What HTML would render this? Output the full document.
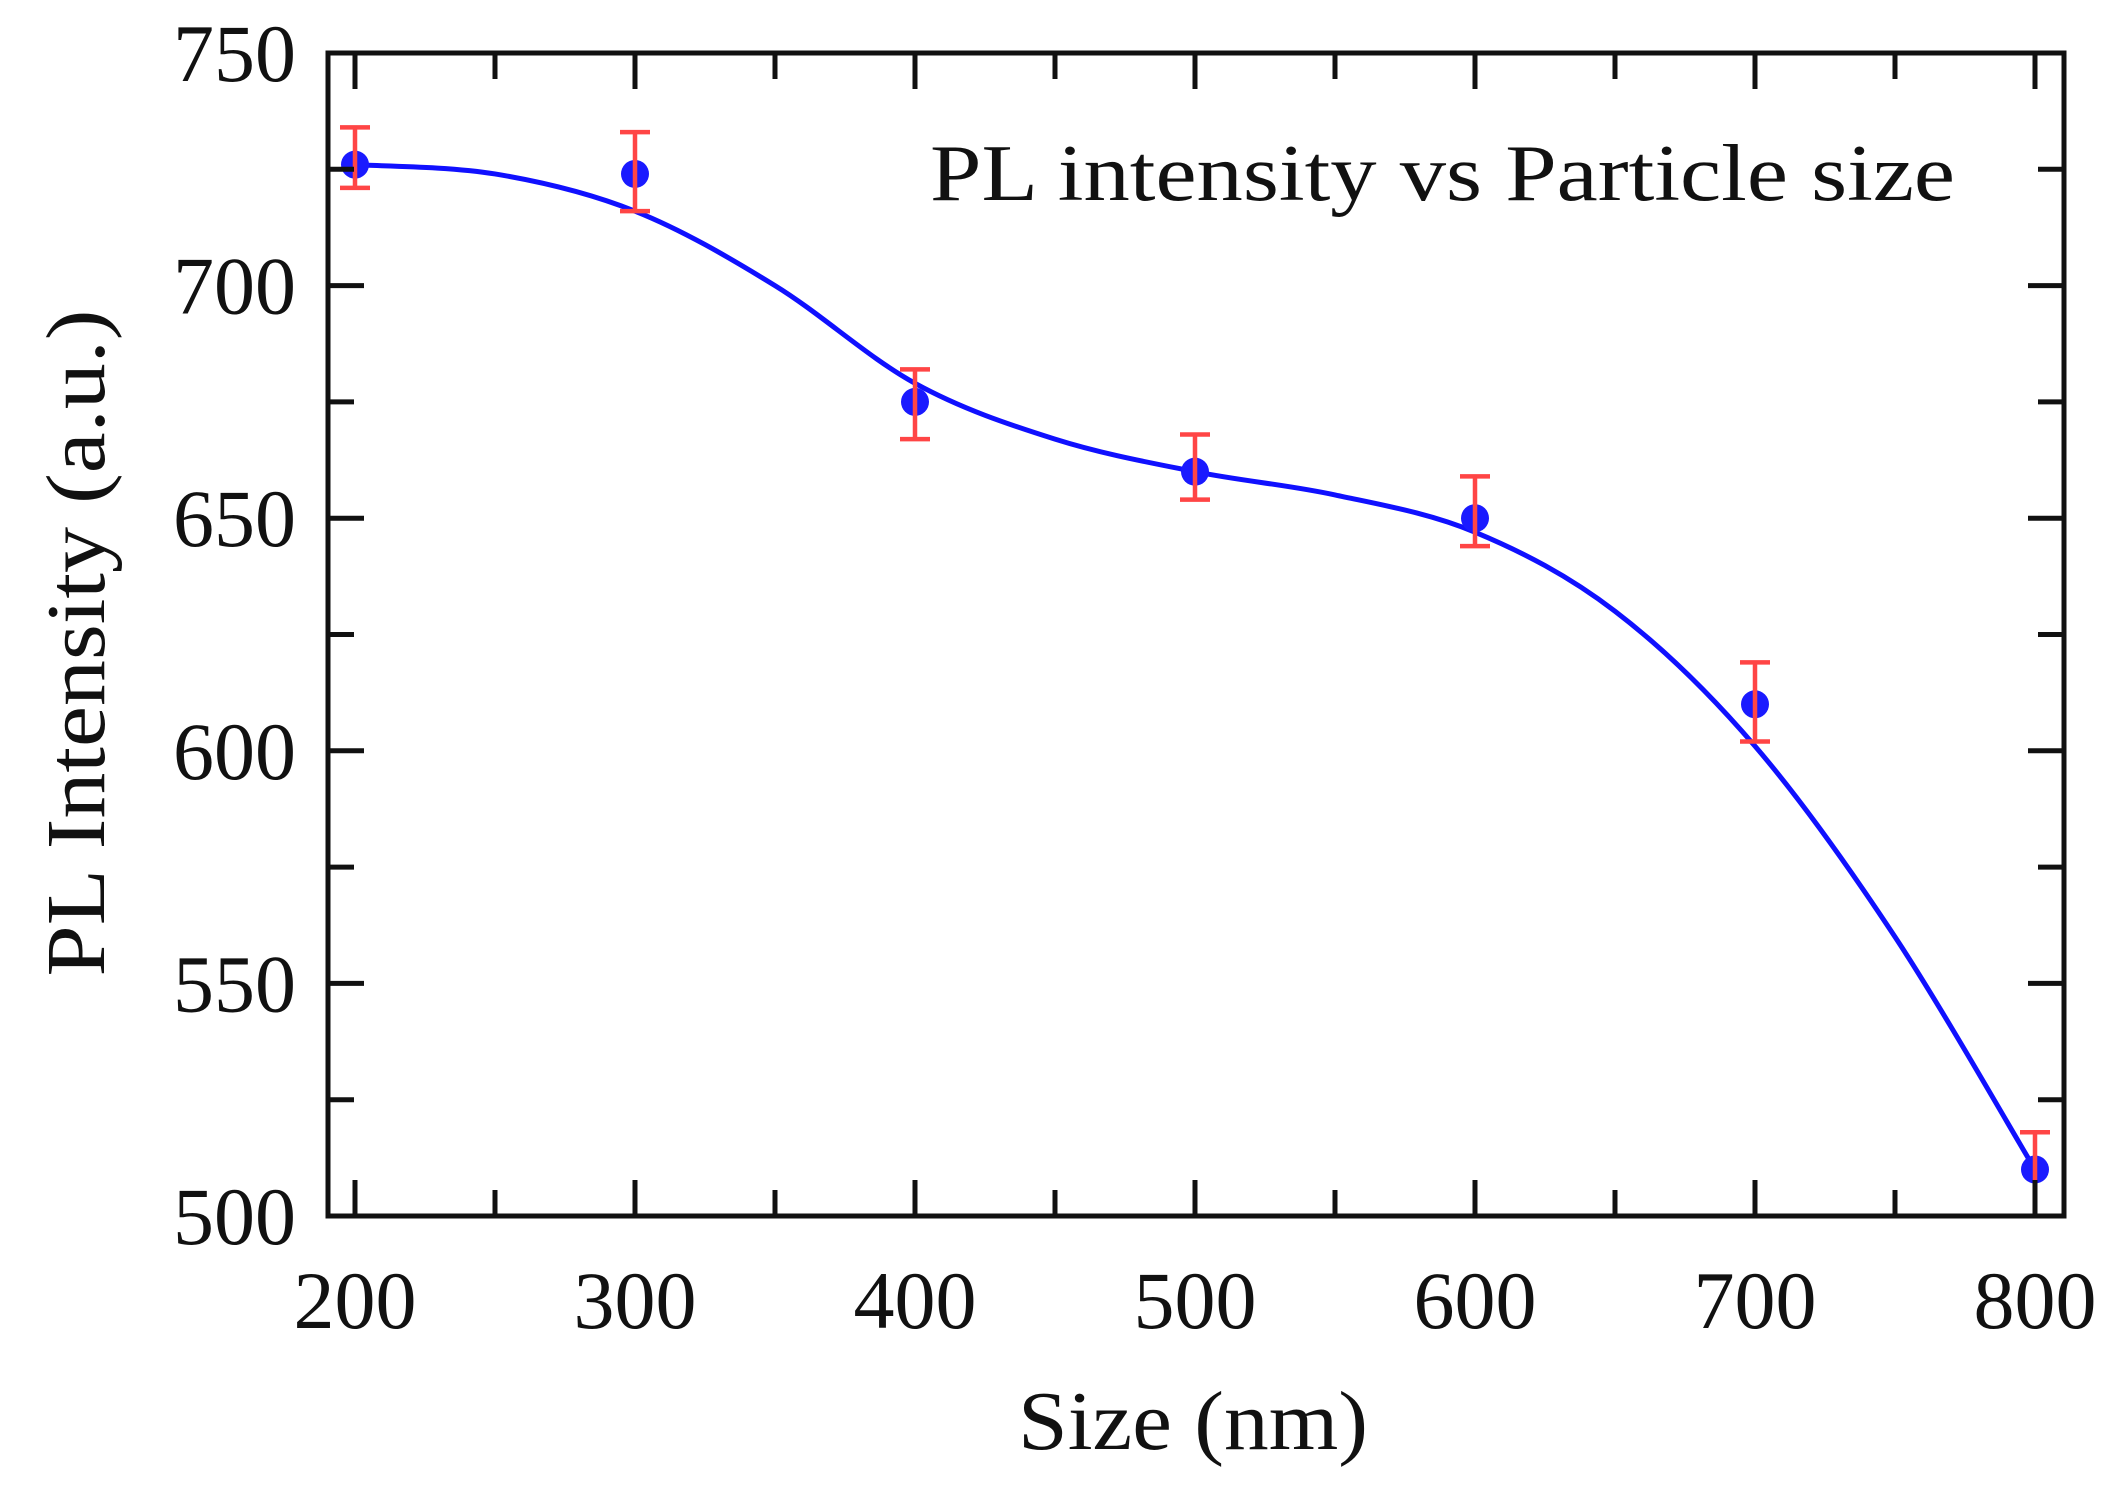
<!DOCTYPE html>
<html><head><meta charset="utf-8"><style>
html,body{margin:0;padding:0;background:#fff;}
svg{display:block;font-family:"Liberation Serif",serif;}
</style></head><body>
<svg id="chart" width="2114" height="1491" viewBox="0 0 2114 1491" xmlns="http://www.w3.org/2000/svg">
</svg>
<script>
const sizes=[200,300,400,500,600,700,800];
const intensity=[726,724,675,660,650,610,510];
const errUp=[734,733,682,668,659,619,518];
const errLo=[721,716,667,654,644,602,500];
const fitX=[200,250,300,350,400,450,500,550,600,650,700,750,800];
const fitY=[726,724,716,700,679,667,660,655,647,630,601,560,510];
const xTicks=[200,300,400,500,600,700,800];
const yTicks=[500,550,600,650,700,750];

const L=328,R=2064,T=53,B=1216;
const Y0=500,Y1=750;
function sx(v){return 355+(v-200)*(2035-355)/600;}
function sy(v){return B-(v-Y0)*(B-T)/(Y1-Y0);}
const NS="http://www.w3.org/2000/svg";
const svg=document.getElementById('chart');
function el(t,a,p){const e=document.createElementNS(NS,t);for(const k in a)e.setAttribute(k,a[k]);(p||svg).appendChild(e);return e;}

let pts=fitX.map((x,i)=>[sx(x),sy(fitY[i])]);
let d="M"+pts[0][0]+","+pts[0][1];
for(let i=0;i<pts.length-1;i++){
  const p0=pts[Math.max(0,i-1)],p1=pts[i],p2=pts[i+1],p3=pts[Math.min(pts.length-1,i+2)];
  const c1=[p1[0]+(p2[0]-p0[0])/6,p1[1]+(p2[1]-p0[1])/6];
  const c2=[p2[0]-(p3[0]-p1[0])/6,p2[1]-(p3[1]-p1[1])/6];
  d+=" C"+c1+" "+c2+" "+p2;
}
const curve=el('path',{d:d,fill:'none',stroke:'#1010ff','stroke-width':5});



sizes.forEach((s,i)=>{
  const x=sx(s);
  const pt=el('circle',{cx:x,cy:sy(intensity[i]),r:14,fill:'#1a1aff'});
  
  
  const eb=el('path',{d:`M${x},${sy(errUp[i])}V${sy(errLo[i])}M${x-15},${sy(errUp[i])}h30M${x-15},${sy(errLo[i])}h30`,stroke:'#ff4545','stroke-width':4.5,fill:'none'});
  
  
});

const fr=el('rect',{x:L,y:T,width:R-L,height:B-T,fill:'none',stroke:'#111','stroke-width':5});



let td="";
for(let v=200;v<=800;v+=50){const x=sx(v);const len=(v%100==0)?36:26;td+=`M${x},${B}v${-len}M${x},${T}v${len}`;}
for(let v=500;v<=750;v+=25){const y=sy(v);const len=(v%50==0)?36:26;td+=`M${L},${y}h${len}M${R},${y}h${-len}`;}
const tk=el('path',{d:td,stroke:'#111','stroke-width':5,fill:'none'});



xTicks.forEach(v=>{
  const t=el('text',{x:sx(v),y:1328,'text-anchor':'middle','font-size':82,fill:'#111'});
  t.textContent=v;
  
  
});
yTicks.forEach(v=>{
  const t=el('text',{x:296,y:sy(v)+28,'text-anchor':'end','font-size':82,fill:'#111'});
  t.textContent=v;
  
  
});
const xt=el('text',{x:1193,y:1449,'text-anchor':'middle','font-size':84,fill:'#111',textLength:350,lengthAdjust:'spacingAndGlyphs'});
xt.textContent="Size (nm)";


const yt=el('text',{x:0,y:0,'text-anchor':'middle','font-size':84,fill:'#111',textLength:667,lengthAdjust:'spacingAndGlyphs',transform:'translate(104,643) rotate(-90)'});
yt.textContent="PL Intensity (a.u.)";


const ti=el('text',{x:930,y:200,'font-size':80,fill:'#111',textLength:1025,lengthAdjust:'spacingAndGlyphs'});
ti.textContent="PL intensity vs Particle size";


</script>
</body></html>
